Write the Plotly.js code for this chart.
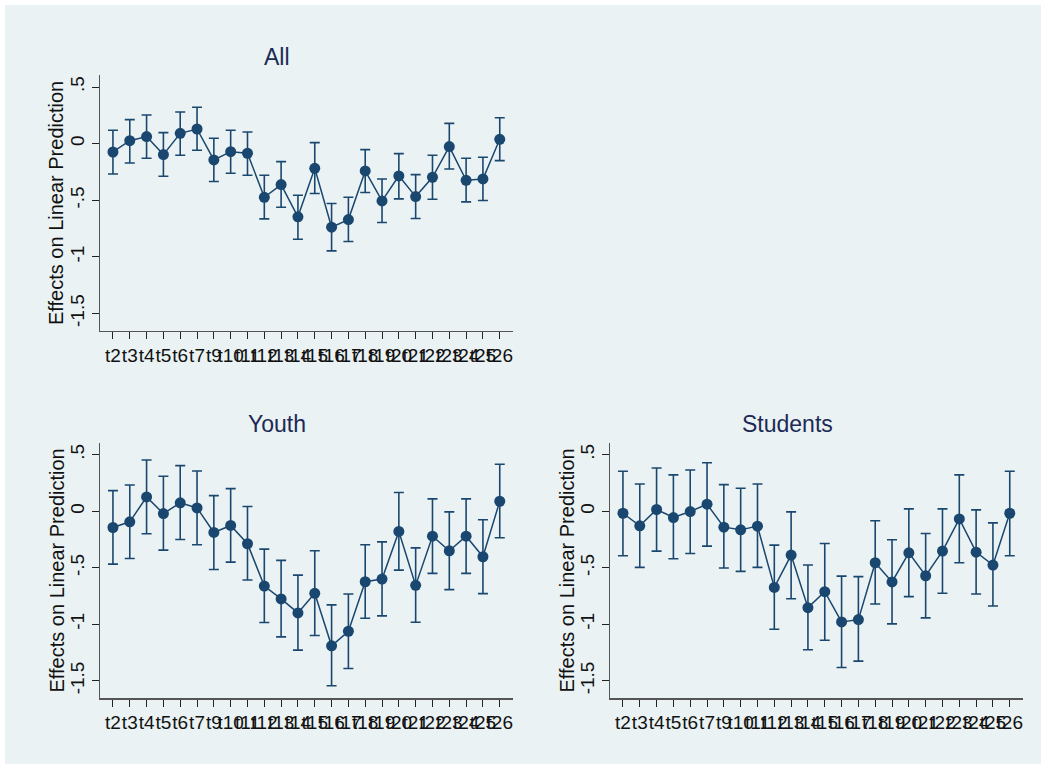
<!DOCTYPE html>
<html>
<head>
<meta charset="utf-8">
<script src="https://cdn.plot.ly/plotly-3.0.1.min.js"></script>
<style>
  html, body { margin: 0; padding: 0; background: #ffffff; }
  #chart { width: 1046px; height: 770px; }
</style>
</head>
<body>
<div id="chart"></div>
<script>
// Period dummies (t8 is the omitted base period)
const periods = ["t2","t3","t4","t5","t6","t7","t9","t10","t11","t12","t13","t14",
                 "t15","t16","t17","t18","t19","t20","t21","t22","t23","t24","t25","t26"];

// Y axis ticks
const yTickVals = [-1.5, -1, -0.5, 0, 0.5];
const yTickText = ["-1.5", "-1", "-.5", "0", ".5"];

// All
const allEst = [-0.074, 0.026, 0.062, -0.097, 0.091, 0.129, -0.144, -0.071, -0.085, -0.474, -0.362, -0.647,
                -0.218, -0.738, -0.671, -0.241, -0.506, -0.285, -0.468, -0.297, -0.026, -0.324, -0.312, 0.038];
const allHi  = [0.118, 0.212, 0.253, 0.097, 0.279, 0.321, 0.047, 0.118, 0.103, -0.279, -0.159, -0.456,
                0.009, -0.529, -0.474, -0.053, -0.312, -0.088, -0.274, -0.103, 0.179, -0.129, -0.121, 0.229];
const allLo  = [-0.268, -0.171, -0.129, -0.288, -0.103, -0.059, -0.335, -0.262, -0.279, -0.665, -0.562, -0.844,
                -0.441, -0.947, -0.865, -0.432, -0.697, -0.488, -0.662, -0.491, -0.224, -0.515, -0.503, -0.150];

// Youth
const youthEst = [-0.144, -0.094, 0.126, -0.021, 0.074, 0.029, -0.188, -0.126, -0.288, -0.662, -0.776, -0.900,
                  -0.726, -1.191, -1.062, -0.624, -0.600, -0.179, -0.656, -0.221, -0.350, -0.221, -0.403, 0.088];
const youthHi  = [0.182, 0.232, 0.453, 0.309, 0.403, 0.356, 0.138, 0.200, 0.041, -0.335, -0.435, -0.565,
                  -0.350, -0.829, -0.732, -0.297, -0.271, 0.165, -0.324, 0.109, -0.006, 0.109, -0.076, 0.415];
const youthLo  = [-0.468, -0.418, -0.200, -0.344, -0.250, -0.297, -0.515, -0.450, -0.609, -0.985, -1.112, -1.229,
                  -1.100, -1.544, -1.391, -0.947, -0.926, -0.521, -0.982, -0.550, -0.694, -0.550, -0.729, -0.235];

// Students
const studEst = [-0.018, -0.129, 0.015, -0.056, -0.003, 0.062, -0.141, -0.165, -0.132, -0.674, -0.388, -0.853,
                 -0.712, -0.979, -0.959, -0.456, -0.626, -0.368, -0.571, -0.353, -0.068, -0.362, -0.476, -0.018];
const studHi  = [0.353, 0.241, 0.382, 0.321, 0.365, 0.429, 0.235, 0.203, 0.241, -0.300, -0.006, -0.476,
                 -0.285, -0.574, -0.579, -0.085, -0.253, 0.021, -0.197, 0.021, 0.321, 0.012, -0.103, 0.353];
const studLo  = [-0.394, -0.497, -0.353, -0.421, -0.374, -0.309, -0.503, -0.532, -0.497, -1.044, -0.774, -1.226,
                 -1.141, -1.382, -1.326, -0.821, -0.997, -0.756, -0.944, -0.726, -0.456, -0.732, -0.838, -0.394];

const panelTitles = ["All", "Youth", "Students"];
const yTitle = "Effects on Linear Prediction";

const W = 1046, H = 770;
const NAVY = "#1a476f";
const TITLE_COLOR = "#1c2a55";
const BG = "#eaf2f3";
const FONT = "Liberation Sans, Arial, Helvetica, sans-serif";

// pixel -> paper helpers
const px = v => v / W;
const py = v => 1 - v / H;

function panelTrace(est, hi, lo, xa, ya) {
  return {
    type: "scatter",
    mode: "lines+markers",
    x: periods,
    y: est,
    xaxis: xa,
    yaxis: ya,
    line: { color: NAVY, width: 1.5 },
    marker: { color: NAVY, size: 11 },
    error_y: {
      type: "data",
      symmetric: false,
      array: hi.map((h, i) => h - est[i]),
      arrayminus: lo.map((l, i) => est[i] - l),
      color: NAVY,
      thickness: 1.6,
      width: 5
    },
    showlegend: false,
    hoverinfo: "x+y"
  };
}

const data = [
  panelTrace(allEst, allHi, allLo, "x", "y"),
  panelTrace(youthEst, youthHi, youthLo, "x2", "y2"),
  panelTrace(studEst, studHi, studLo, "x3", "y3")
];

function xAxis(domain, anchor) {
  return {
    domain: domain,
    anchor: anchor,
    type: "category",
    range: [-0.77, 23.77],
    tickmode: "array",
    tickvals: periods,
    ticktext: periods,
    tickangle: 0,
    ticks: "outside",
    ticklen: 7,
    tickwidth: 1,
    tickcolor: "#222",
    tickfont: { family: FONT, size: 19, color: "#111" },
    showline: true,
    linecolor: "#555",
    linewidth: 1.2,
    showgrid: false,
    zeroline: false,
    fixedrange: true
  };
}

function yAxis(domain, anchor) {
  return {
    domain: domain,
    anchor: anchor,
    range: [-1.655, 0.606],
    tickmode: "array",
    tickvals: yTickVals,
    ticktext: yTickText,
    tickangle: -90,
    ticks: "outside",
    ticklen: 7,
    tickwidth: 1,
    tickcolor: "#222",
    tickfont: { family: FONT, size: 19, color: "#111" },
    showline: true,
    linecolor: "#555",
    linewidth: 1.2,
    showgrid: true,
    gridcolor: BG,
    gridwidth: 1.5,
    zeroline: false,
    fixedrange: true
  };
}

const xDomL = [px(100), px(512.7)];
const xDomR = [px(610), px(1022.7)];
const yDomTop = [py(331), py(75)];
const yDomBot = [py(698.3), py(442.7)];

function titleAnn(text, cx, cy) {
  return {
    text: text, xref: "paper", yref: "paper",
    x: px(cx), y: py(cy), xanchor: "center", yanchor: "middle",
    showarrow: false,
    font: { family: FONT, size: 23, color: TITLE_COLOR }
  };
}
function yTitleAnn(cx, cy) {
  return {
    text: yTitle, xref: "paper", yref: "paper",
    x: px(cx), y: py(cy), xanchor: "center", yanchor: "middle",
    textangle: -90, showarrow: false,
    font: { family: FONT, size: 20, color: "#111" }
  };
}

const layout = {
  width: W, height: H,
  margin: { l: 0, r: 0, t: 0, b: 0, pad: 0 },
  paper_bgcolor: "#ffffff",
  plot_bgcolor: "#ffffff",
  font: { family: FONT, color: "#111" },
  xaxis: xAxis(xDomL, "y"),
  yaxis: yAxis(yDomTop, "x"),
  xaxis2: xAxis(xDomL, "y2"),
  yaxis2: yAxis(yDomBot, "x2"),
  xaxis3: xAxis(xDomR, "y3"),
  yaxis3: yAxis(yDomBot, "x3"),
  shapes: [
    {
      type: "rect", xref: "paper", yref: "paper", layer: "below",
      x0: px(5), x1: px(1041), y0: py(764), y1: py(5),
      fillcolor: BG, line: { width: 0 }
    }
  ],
  annotations: [
    titleAnn(panelTitles[0], 277, 57),
    titleAnn(panelTitles[1], 277, 424),
    titleAnn(panelTitles[2], 787.5, 424),
    yTitleAnn(56, 203),
    yTitleAnn(56, 570.5),
    yTitleAnn(566, 570.5)
  ]
};

Plotly.newPlot("chart", data, layout, { displayModeBar: false, staticPlot: true });
</script>
</body>
</html>
